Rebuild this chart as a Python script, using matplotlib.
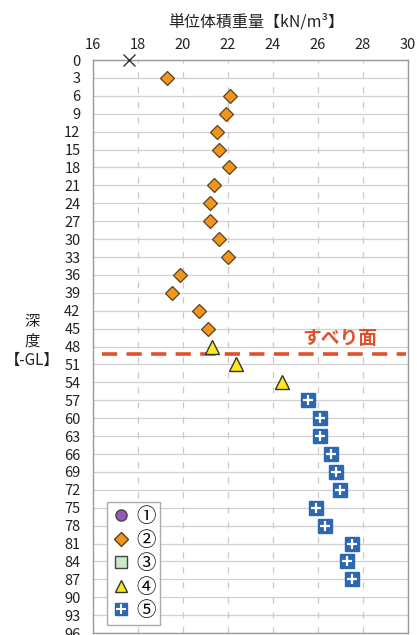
import matplotlib
matplotlib.use("Agg")
import matplotlib.pyplot as plt
from matplotlib.lines import Line2D
from matplotlib.legend_handler import HandlerTuple

plt.rcParams['font.family'] = ['Noto Sans CJK JP', 'DejaVu Sans']

# data
surface_depth = [0]
surface_val = [17.6]
d2_depth = [3, 6, 9, 12, 15, 18, 21, 24, 27, 30, 33, 36, 39, 42, 45]
d2_val = [19.3, 22.1, 21.9, 21.5, 21.6, 22.05, 21.4, 21.2, 21.2, 21.6, 22.0, 19.85, 19.5, 20.7, 21.1]
d4_depth = [48, 51, 54]
d4_val = [21.3, 22.35, 24.4]
d5_depth = [57, 60, 63, 66, 69, 72, 75, 78, 81, 84, 87]
d5_val = [25.55, 26.1, 26.1, 26.6, 26.8, 27.0, 25.9, 26.3, 27.5, 27.3, 27.5]
slip_depth = 49.2
x_ticks = [16, 18, 20, 22, 24, 26, 28, 30]
y_ticks = list(range(0, 97, 3))
legend_labels = ['①', '②', '③', '④', '⑤']

fig = plt.figure(figsize=(4.17, 6.35), dpi=100)
ax = fig.add_axes([0.223, 0.003, 0.755, 0.9025])
ax.set_xlim(16, 30)
ax.set_ylim(96, 0)
ax.set_xticks(x_ticks)
ax.set_yticks(y_ticks)
ax.xaxis.tick_top()
ax.xaxis.set_label_position('top')
ax.tick_params(axis='both', length=0, labelsize=10.5, colors='#222222')
ax.tick_params(axis='x', pad=6)
ax.tick_params(axis='y', pad=9)
for s in ax.spines.values():
    s.set_color('#9a9a9a')
    s.set_linewidth(1.0)
ax.set_axisbelow(True)
ax.grid(axis='y', color='#d0d0d0', linewidth=0.9, linestyle='-')
ax.grid(axis='x', color='#c8c8c8', linewidth=0.9, linestyle=(0, (5, 7)))

ax.set_xlabel('単位体積重量【kN/m³】', fontsize=11.5, color='#222222')
ax.xaxis.set_label_coords(0.517, 1.066)
ax.xaxis.label.set_va('center')

ax.plot(surface_val, surface_depth, marker='x', linestyle='none', color='#333333',
        markersize=9, markeredgewidth=1.0, clip_on=False, zorder=5)
ax.plot(d2_val, d2_depth, marker='D', linestyle='none', markerfacecolor='#F0961E',
        markeredgecolor='#5a4020', markersize=7.5, markeredgewidth=0.9, zorder=5)
ax.plot(d4_val, d4_depth, marker='^', linestyle='none', markerfacecolor='#FFE81A',
        markeredgecolor='#333333', markersize=9.5, markeredgewidth=1.0, zorder=5)
ax.plot(d5_val, d5_depth, marker='s', linestyle='none', markerfacecolor='#2E67B1',
        markeredgecolor='#2E67B1', markersize=10, zorder=5)
ax.plot(d5_val, d5_depth, marker='+', linestyle='none', color='white',
        markersize=7, markeredgewidth=1.6, zorder=6)

ax.axhline(slip_depth, xmin=0.03, xmax=0.995, color='#E0502A', linewidth=2.6,
           linestyle=(0, (4.2, 2.6)), zorder=4)
ax.text(27.0, 46.6, 'すべり面', color='#E0502A', fontsize=13.5, fontweight='bold',
        ha='center', va='center', zorder=6)

fig.text(0.077, 0.463, '深\n度\n【-GL】', ha='center', va='center', fontsize=11,
         color='#222222', linespacing=1.2)

h1 = Line2D([], [], marker='o', linestyle='none', markerfacecolor='#9B59B6',
            markeredgecolor='#444444', markersize=8)
h2 = Line2D([], [], marker='D', linestyle='none', markerfacecolor='#F0961E',
            markeredgecolor='#5a4020', markersize=7)
h3 = Line2D([], [], marker='s', linestyle='none', markerfacecolor='#CDE8C4',
            markeredgecolor='#444444', markersize=8)
h4 = Line2D([], [], marker='^', linestyle='none', markerfacecolor='#FFE81A',
            markeredgecolor='#333333', markersize=9)
h5a = Line2D([], [], marker='s', linestyle='none', markerfacecolor='#2E67B1',
             markeredgecolor='#2E67B1', markersize=9)
h5b = Line2D([], [], marker='+', linestyle='none', color='white',
             markersize=6.5, markeredgewidth=1.5)
leg = ax.legend([h1, h2, h3, h4, (h5a, h5b)], legend_labels,
                handler_map={tuple: HandlerTuple(ndivide=1, pad=0)},
                loc='lower left', bbox_to_anchor=(0.045, 0.014), borderaxespad=0,
                fontsize=14, frameon=True, fancybox=False, edgecolor='#aaaaaa',
                framealpha=1, handlelength=1.0, handletextpad=0.3,
                labelspacing=0.13, borderpad=0.2)
leg.get_frame().set_linewidth(1.0)

fig.savefig('out.png', dpi=100)
